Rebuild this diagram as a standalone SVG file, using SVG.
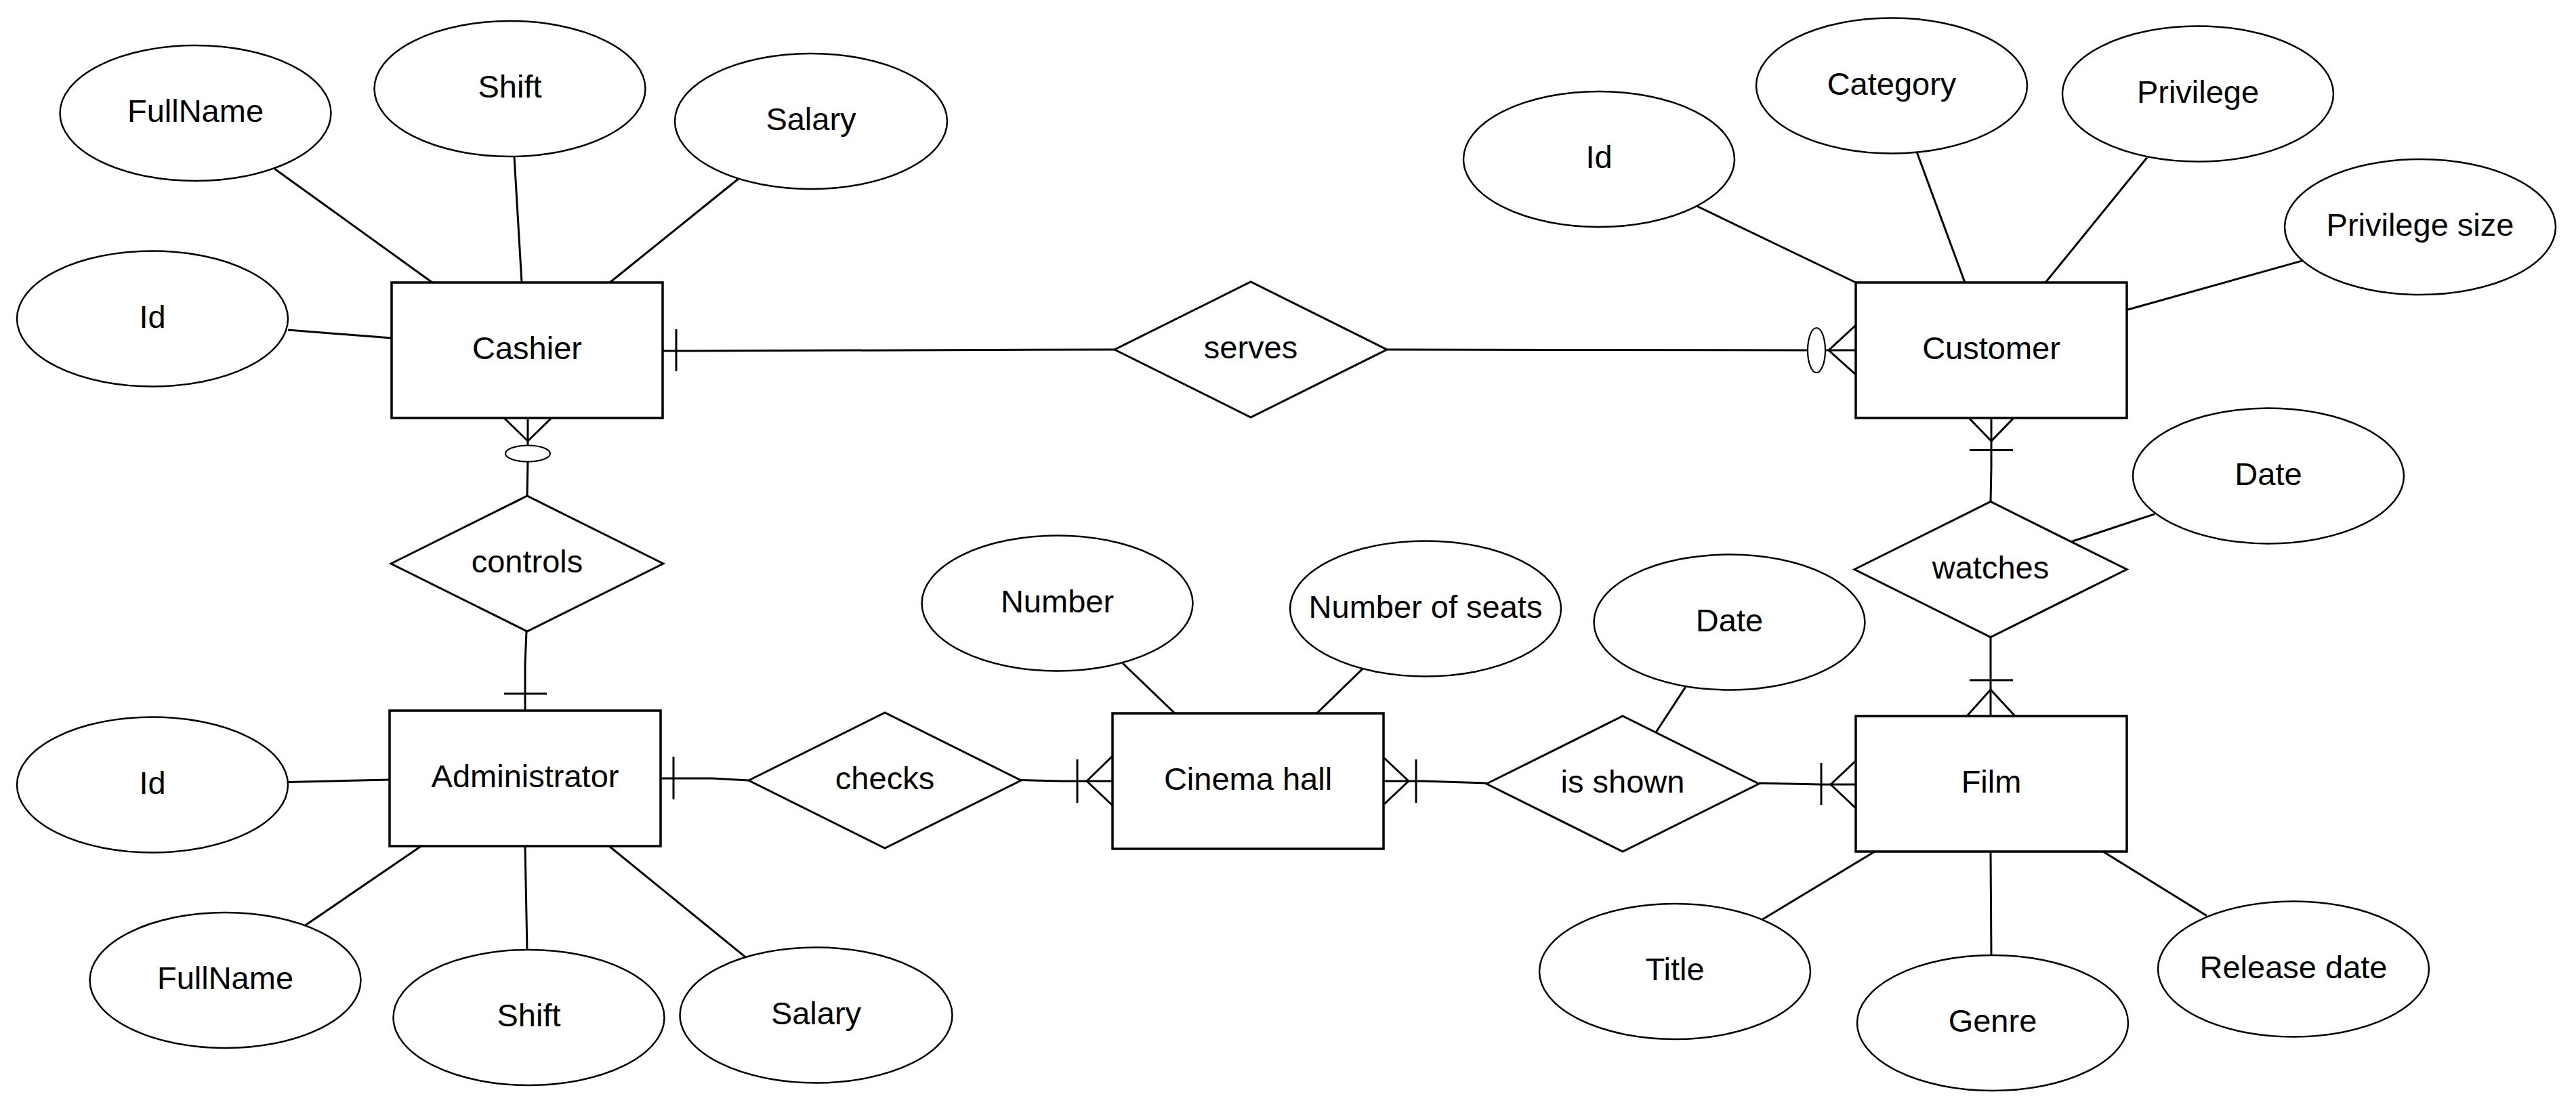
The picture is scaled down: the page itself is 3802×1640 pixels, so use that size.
<svg xmlns="http://www.w3.org/2000/svg" width="3802" height="1640" viewBox="0 0 3802 1640">
<style>
.ent{fill:#fff;stroke:#000;stroke-width:3.5}
.att{fill:#fff;stroke:#000;stroke-width:2.5}
.rel{fill:#fff;stroke:#000;stroke-width:3}
.ln{fill:none;stroke:#000;stroke-width:3}
.z{fill:#fff;stroke:#000;stroke-width:2.2}
text{font-family:"Liberation Sans",Arial,sans-serif;font-size:47px;fill:#000;text-anchor:middle}
</style>
<rect width="3802" height="1640" fill="#fff"/>
<g id="connectors">
<!-- attribute links -->
<line class="ln" x1="405" y1="249" x2="638" y2="417"/>
<line class="ln" x1="759" y1="231" x2="770" y2="417"/>
<line class="ln" x1="1091" y1="263" x2="900" y2="417"/>
<line class="ln" x1="425" y1="487" x2="578" y2="499"/>
<line class="ln" x1="425" y1="1154.5" x2="575" y2="1151"/>
<line class="ln" x1="621.5" y1="1249" x2="449.7" y2="1366.6"/>
<line class="ln" x1="775" y1="1249" x2="778" y2="1402.6"/>
<line class="ln" x1="899" y1="1249" x2="1100" y2="1412.7"/>
<line class="ln" x1="1657" y1="979" x2="1734" y2="1053"/>
<line class="ln" x1="2010.7" y1="987.6" x2="1943.5" y2="1053"/>
<line class="ln" x1="2487.8" y1="1014" x2="2444" y2="1081"/>
<line class="ln" x1="2504" y1="304" x2="2739" y2="417"/>
<line class="ln" x1="2829.5" y1="225.6" x2="2900" y2="417"/>
<line class="ln" x1="3169" y1="232.5" x2="3019" y2="417"/>
<line class="ln" x1="3399" y1="384.6" x2="3139" y2="457.5"/>
<line class="ln" x1="3180" y1="758.8" x2="3057.4" y2="799.5"/>
<line class="ln" x1="2767" y1="1257" x2="2601.5" y2="1357"/>
<line class="ln" x1="2938" y1="1257" x2="2939" y2="1410.7"/>
<line class="ln" x1="3104" y1="1257" x2="3257" y2="1351.8"/>
<!-- Cashier - serves -->
<polyline class="ln" points="979,518 1645,516"/>
<line class="ln" x1="998" y1="486" x2="998" y2="548"/>
<!-- serves - Customer -->
<polyline class="ln" points="2047,516 2668,517"/>
<line class="ln" x1="2694" y1="517" x2="2739" y2="517"/>
<ellipse class="z" cx="2681" cy="517" rx="13" ry="33"/>
<polyline class="ln" points="2739,480 2699,517 2739,553"/>
<!-- Cashier - controls -->
<line class="ln" x1="779" y1="617" x2="779" y2="657"/>
<polyline class="ln" points="744,617 779,651 814,617"/>
<ellipse class="z" cx="779" cy="669.5" rx="33" ry="12"/>
<polyline class="ln" points="779,682 778,732"/>
<!-- controls - Administrator -->
<polyline class="ln" points="777,932 775,980 775,1049"/>
<line class="ln" x1="744" y1="1024" x2="807" y2="1024"/>
<!-- Administrator - checks -->
<polyline class="ln" points="975,1149 1052,1149 1105,1152"/>
<line class="ln" x1="994" y1="1117" x2="994" y2="1180"/>
<!-- checks - Cinema hall -->
<polyline class="ln" points="1507,1151.5 1566,1153 1642,1153"/>
<line class="ln" x1="1590" y1="1121" x2="1590" y2="1185"/>
<polyline class="ln" points="1642,1116 1604,1153 1642,1189"/>
<!-- Cinema hall - is shown -->
<polyline class="ln" points="2043,1153 2100,1153 2194,1156"/>
<line class="ln" x1="2090" y1="1121" x2="2090" y2="1185"/>
<polyline class="ln" points="2043,1119 2079,1153 2043,1187"/>
<!-- is shown - Film -->
<polyline class="ln" points="2596,1156 2688,1158 2739,1158"/>
<line class="ln" x1="2688" y1="1126" x2="2688" y2="1188"/>
<polyline class="ln" points="2739,1123 2702,1158 2739,1193"/>
<!-- Customer - watches -->
<polyline class="ln" points="2939,617 2939,690 2938,741"/>
<polyline class="ln" points="2906,617 2939,651 2972,617"/>
<line class="ln" x1="2907" y1="664.5" x2="2971" y2="664.5"/>
<!-- watches - Film -->
<polyline class="ln" points="2938,940 2938,1057"/>
<line class="ln" x1="2907" y1="1004" x2="2971" y2="1004"/>
<polyline class="ln" points="2903,1057 2938,1018 2974,1057"/>
</g>
<g id="cashier"><rect class="ent" x="578" y="417" width="400" height="200"/><text x="778" y="530">Cashier</text></g>
<g id="cashier-fullname"><ellipse class="att" cx="288.5" cy="167" rx="200" ry="100"/><text x="288.5" y="180">FullName</text></g>
<g id="cashier-shift"><ellipse class="att" cx="752.5" cy="131" rx="200" ry="100"/><text x="752.5" y="144">Shift</text></g>
<g id="cashier-salary"><ellipse class="att" cx="1197" cy="179" rx="201" ry="100"/><text x="1197" y="192">Salary</text></g>
<g id="cashier-id"><ellipse class="att" cx="225" cy="470.5" rx="200" ry="100"/><text x="225" y="483.5">Id</text></g>
<g id="serves"><polygon class="rel" points="1645,516 1846,416 2047,516 1846,616"/><text x="1846" y="529">serves</text></g>
<g id="controls"><polygon class="rel" points="577,832 778,732 979,832 778,932"/><text x="778" y="845">controls</text></g>
<g id="administrator"><rect class="ent" x="575" y="1049" width="400" height="200"/><text x="775" y="1162">Administrator</text></g>
<g id="admin-id"><ellipse class="att" cx="225" cy="1158.5" rx="200" ry="100"/><text x="225" y="1171.5">Id</text></g>
<g id="admin-fullname"><ellipse class="att" cx="332.5" cy="1447" rx="200" ry="100"/><text x="332.5" y="1460">FullName</text></g>
<g id="admin-shift"><ellipse class="att" cx="780.5" cy="1502" rx="200" ry="100"/><text x="780.5" y="1515">Shift</text></g>
<g id="admin-salary"><ellipse class="att" cx="1204.5" cy="1498.5" rx="201" ry="100"/><text x="1204.5" y="1511.5">Salary</text></g>
<g id="checks"><polygon class="rel" points="1105,1152 1306,1052 1507,1152 1306,1252"/><text x="1306" y="1165">checks</text></g>
<g id="cinema-hall"><rect class="ent" x="1642" y="1053" width="400" height="200"/><text x="1842" y="1166">Cinema hall</text></g>
<g id="hall-number"><ellipse class="att" cx="1560.5" cy="890.5" rx="200" ry="100"/><text x="1560.5" y="903.5">Number</text></g>
<g id="hall-seats"><ellipse class="att" cx="2104" cy="898.5" rx="200" ry="100"/><text x="2104" y="911.5">Number of seats</text></g>
<g id="is-shown"><polygon class="rel" points="2194,1157 2395,1057 2596,1157 2395,1257"/><text x="2395" y="1170">is shown</text></g>
<g id="shown-date"><ellipse class="att" cx="2552.5" cy="918.5" rx="200" ry="100"/><text x="2552.5" y="931.5">Date</text></g>
<g id="customer"><rect class="ent" x="2739" y="417" width="400" height="200"/><text x="2939" y="530">Customer</text></g>
<g id="customer-id"><ellipse class="att" cx="2360" cy="235" rx="200" ry="100"/><text x="2360" y="248">Id</text></g>
<g id="customer-category"><ellipse class="att" cx="2792" cy="126.5" rx="200" ry="100"/><text x="2792" y="139.5">Category</text></g>
<g id="customer-privilege"><ellipse class="att" cx="3244" cy="138.5" rx="200" ry="100"/><text x="3244" y="151.5">Privilege</text></g>
<g id="customer-privilege-size"><ellipse class="att" cx="3572" cy="335" rx="200" ry="100"/><text x="3572" y="348">Privilege size</text></g>
<g id="watches"><polygon class="rel" points="2737,840.5 2938,740.5 3139,840.5 2938,940.5"/><text x="2938" y="853.5">watches</text></g>
<g id="watches-date"><ellipse class="att" cx="3348" cy="702.5" rx="200" ry="100"/><text x="3348" y="715.5">Date</text></g>
<g id="film"><rect class="ent" x="2739" y="1057" width="400" height="200"/><text x="2939" y="1170">Film</text></g>
<g id="film-title"><ellipse class="att" cx="2472" cy="1434" rx="200" ry="100"/><text x="2472" y="1447">Title</text></g>
<g id="film-genre"><ellipse class="att" cx="2941" cy="1510" rx="200" ry="100"/><text x="2941" y="1523">Genre</text></g>
<g id="film-release"><ellipse class="att" cx="3385" cy="1430.5" rx="200" ry="100"/><text x="3385" y="1443.5">Release date</text></g>
</svg>
